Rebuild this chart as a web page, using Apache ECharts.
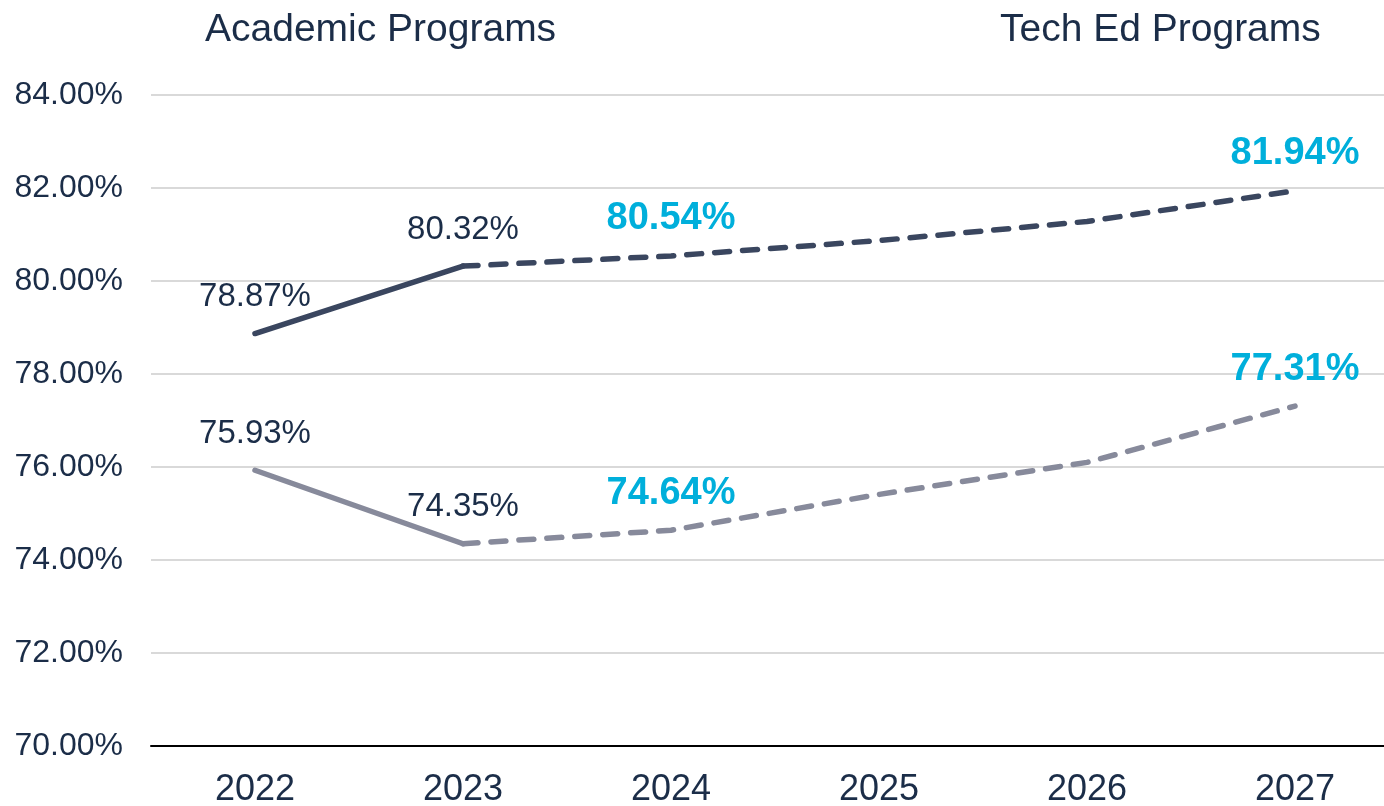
<!DOCTYPE html>
<html>
<head>
<meta charset="utf-8">
<script src="https://cdn.jsdelivr.net/npm/echarts@6/dist/echarts.min.js"></script>
<style>
html,body{margin:0;padding:0;background:#fff;}
#chart{width:1384px;height:806px;}
</style>
</head>
<body>
<div id="chart"></div>
<script>
var years = ['2022', '2023', '2024', '2025', '2026', '2027'];
var academic = [78.87, 80.32, 80.54, 80.87, 81.28, 81.94];
var techEd = [75.93, 74.35, 74.64, 75.41, 76.10, 77.31];
var actualCount = 2;            // 2022-2023 actual, rest projected
var projLabelIdx = [2, 5];      // projected points that get a bold label
var yTicks = [70, 72, 74, 76, 78, 80, 82, 84];

var fontFam = 'Liberation Sans, Arial, sans-serif';
var darkText = '#1b2d48';

function pct(v){ return v.toFixed(2) + '%'; }

function actualData(arr){
    return arr.map(function(v, i){
        if (i >= actualCount) return null;
        return {value: v, label: {show: true}};
    });
}
function projData(arr){
    return arr.map(function(v, i){
        if (i < actualCount - 1) return null;
        return {value: v, label: {show: projLabelIdx.indexOf(i) >= 0}};
    });
}

function makeSeries(name, arr, color){
    return [
        {
            name: name,
            type: 'line',
            data: actualData(arr),
            symbol: 'circle',
            symbolSize: 0,
            showSymbol: true,
            lineStyle: {color: color, width: 5.5, cap: 'round'},
            itemStyle: {color: color},
            label: {
                position: 'top', distance: 20,
                color: darkText, fontSize: 33, fontFamily: fontFam,
                formatter: function(p){ return pct(p.value); }
            },
            z: 3
        },
        {
            name: name + ' (projected)',
            type: 'line',
            data: projData(arr),
            symbol: 'circle',
            symbolSize: 0,
            showSymbol: true,
            lineStyle: {color: color, width: 5.5, type: [15, 13], cap: 'round'},
            itemStyle: {color: color},
            label: {
                position: 'top', distance: 18,
                color: '#00afdb', fontSize: 38, fontWeight: 'bold', fontFamily: fontFam,
                formatter: function(p){ return pct(p.value); }
            },
            z: 3
        }
    ];
}

var chart = echarts.init(document.getElementById('chart'));
var option = {
    animation: false,
    backgroundColor: '#ffffff',
    title: [
        {text: 'Academic Programs', left: 200, top: 6,
         textStyle: {color: darkText, fontSize: 39, fontWeight: 'normal', fontFamily: fontFam}},
        {text: 'Tech Ed Programs', left: 995, top: 6,
         textStyle: {color: darkText, fontSize: 39, fontWeight: 'normal', fontFamily: fontFam}}
    ],
    grid: {left: 151, width: 1248, top: 95, height: 651, containLabel: false, outerBoundsMode: 'none'},
    xAxis: {
        type: 'category',
        data: years,
        boundaryGap: true,
        axisLine: {lineStyle: {color: '#000000', width: 2}},
        axisTick: {show: false},
        axisLabel: {color: darkText, fontSize: 36, fontFamily: fontFam, margin: 26}
    },
    yAxis: {
        type: 'value',
        min: yTicks[0],
        max: yTicks[yTicks.length - 1],
        interval: 2,
        axisLine: {show: false},
        axisTick: {show: false},
        splitLine: {lineStyle: {color: '#d9d9d9', width: 2}},
        axisLabel: {color: darkText, fontSize: 32, fontFamily: fontFam, margin: 28,
                    formatter: function(v){ return v.toFixed(2) + '%'; }}
    },
    series: makeSeries('Academic Programs', academic, '#3a465f')
        .concat(makeSeries('Tech Ed Programs', techEd, '#878a9b'))
};
chart.setOption(option);
</script>
</body>
</html>
